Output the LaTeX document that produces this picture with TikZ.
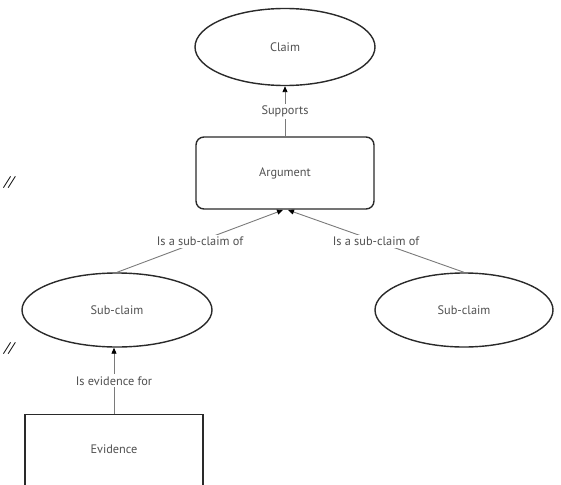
\documentclass[tikz,border=0pt]{standalone}
\usepackage{fontspec}
\setmainfont{PT Sans}
\usetikzlibrary{shapes.geometric,arrows.meta}
\definecolor{inkline}{HTML}{2A2A2A}
\definecolor{linkgray}{HTML}{7A7A7A}
\definecolor{textgray}{HTML}{505050}
\tikzset{
  every node/.style={font=\fontsize{12.3}{14}\selectfont, text=textgray},
  oval/.style={ellipse, draw=inkline, line width=1.4pt, inner sep=0pt},
  roundbox/.style={rectangle, rounded corners=8pt, draw=inkline, line width=1.4pt, inner sep=0pt},
  plainbox/.style={rectangle, draw=inkline, line width=1.4pt, inner sep=0pt},
  link/.style={draw=linkgray, line width=0.9pt},
  tip/.style={-{Triangle[length=6pt,width=5pt,color=black]}},
  linklabel/.style={fill=white, inner sep=2pt},
  marginmark/.style={font=\fontsize{14}{14}\selectfont\itshape, text=black}
}
\begin{document}
\begin{tikzpicture}[x=1pt,y=-1pt]
  \useasboundingbox (0,0) rectangle (561,484);
  \clip (0,0) rectangle (561,484);

  % nodes
  \node[oval, minimum width=180pt, minimum height=77pt] (claim) at (285,47) {Claim};
  \node[roundbox, minimum width=178pt, minimum height=72pt] (arg) at (285,173) {Argument};
  \node[oval, minimum width=190pt, minimum height=74pt] (subL) at (117,310) {Sub-claim};
  \node[oval, minimum width=178pt, minimum height=74pt] (subR) at (464,310) {Sub-claim};
  \node[plainbox, minimum width=178pt, minimum height=72pt, anchor=north] (ev) at (114,414) {};
  \node (evtext) at (114,449) {Evidence};

  % connectors
  \coordinate (argL) at (283,210);
  \coordinate (argR) at (288,210);
  \draw[link, tip] (arg.north) -- node[linklabel] (lsup) {Supports} (claim.south);
  \draw[link, tip] (subL.north) -- node[linklabel] (lsubL) {Is a sub-claim of} (argL);
  \draw[link, tip] (subR.north) -- node[linklabel] (lsubR) {Is a sub-claim of} (argR);
  \draw[link, tip] (ev.north) -- node[linklabel] (lev) {Is evidence for} (ev.north |- subL.south);

  % margin marks
  \node[marginmark] (m1) at (9,183) {//};
  \node[marginmark] (m2) at (9,349) {//};
\end{tikzpicture}
\end{document}
